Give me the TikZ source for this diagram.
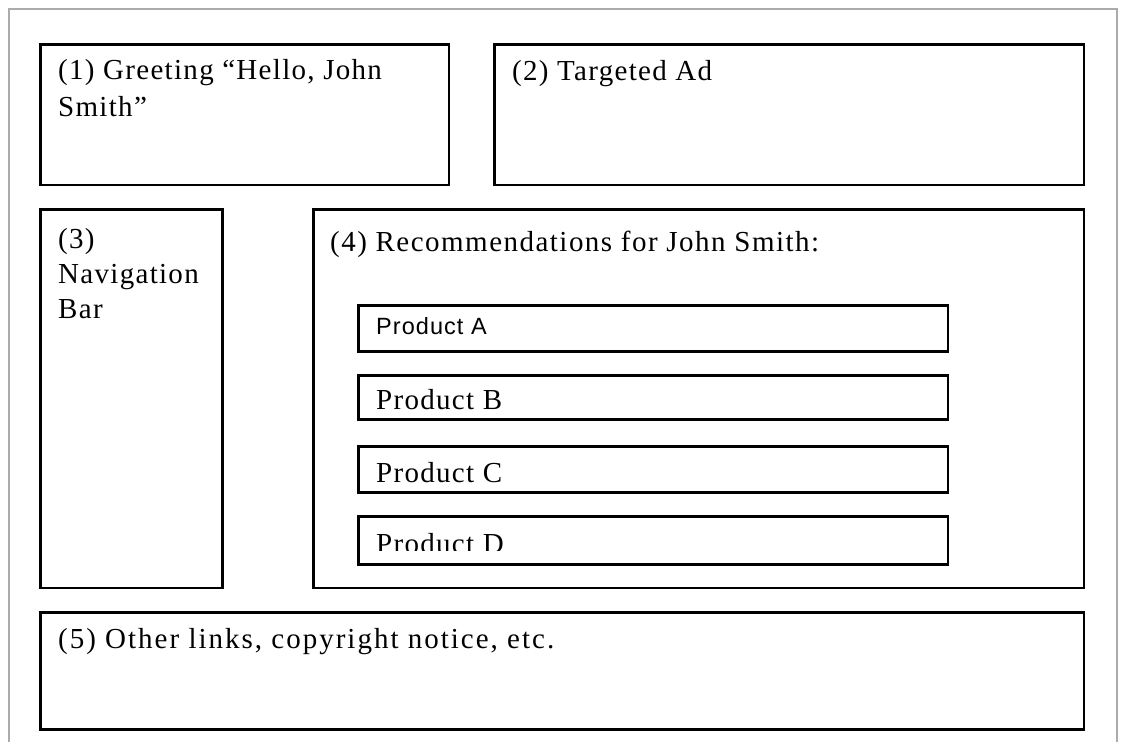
\documentclass[tikz,border=0pt]{standalone}
\usepackage{fontspec}
\setmainfont{Liberation Serif}[LetterSpace=4.5]
\newfontfamily\arialfont{Liberation Sans}[LetterSpace=4.5]
\newfontfamily\widefont{Liberation Serif}[LetterSpace=6.9]
\newfontfamily\midfont{Liberation Serif}[LetterSpace=5.1]
\definecolor{pagegray}{HTML}{ABABAB}
\tikzset{
  panel/.style={draw=black, line width=2.5pt, inner sep=0pt, anchor=north west},
  lbl/.style={anchor=base west, inner sep=0pt, align=left,
              font=\fontsize{29}{37}\selectfont},
  lbltight/.style={anchor=base west, inner sep=0pt, align=left,
              font=\fontsize{29}{35}\selectfont},
  lblsans/.style={anchor=base west, inner sep=0pt,
              font=\arialfont\fontsize{23.5}{28}\selectfont},
  pageedge/.style={draw=pagegray, line width=2pt},
}
\begin{document}
\begin{tikzpicture}[x=1pt,y=-1pt]
\useasboundingbox (0,0) rectangle (1125,742);
\fill[white] (0,0) rectangle (1125,742);
\coordinate (pbl) at (9,742);
\coordinate (ptl) at (9,9);
\coordinate (ptr) at (1117,9);
\coordinate (pbr) at (1117,742);
\draw[pageedge] (pbl) -- (ptl) -- (ptr) -- (pbr);

% main panels
\node[panel, minimum width=408.5pt, minimum height=140.5pt] (b1) at (39,43) {};
\node[panel, minimum width=589.5pt, minimum height=140.5pt] (b2) at (493,43) {};
\node[panel, minimum width=182pt, minimum height=378.5pt] (b3) at (39,208) {};
\node[panel, minimum width=770.5pt, minimum height=378.5pt] (b4) at (312,208) {};
\node[panel, minimum width=1043.5pt, minimum height=117pt] (b5) at (39,611) {};

% product boxes
\node[panel, minimum width=589.5pt, minimum height=46pt] (pa) at (357,304) {};
\node[panel, minimum width=589.5pt, minimum height=44pt] (pb) at (357,374) {};
\node[panel, minimum width=589.5pt, minimum height=46pt] (pc) at (357,445) {};
\node[panel, minimum width=589.5pt, minimum height=48pt] (pd) at (357,515) {};

% labels (base anchor = baseline of last line)
\node[lbl] (t1) at (58,116) {(1) Greeting “Hello, John\\Smith”};
\node[lbl] (t2) at (512,80) {(2) Targeted Ad};
\node[lbltight] (t3) at (58,318) {(3)\\Navigation\\Bar};
\node[lbl, font=\midfont\fontsize{29}{37}\selectfont] (t4) at (330,251) {(4) Recommendations for John Smith:};
\node[lbl, font=\widefont\fontsize{29}{37}\selectfont] (t5) at (58,648) {(5) Other links, copyright notice, etc.};

\node[lblsans] (ta) at (376,334) {Product A};
\node[lbl] (tb) at (376,409) {Product B};
\node[lbl] (tc) at (376,482) {Product C};
\begin{scope}
  \clip (360,518) rectangle (940,550.5);
  \node[lbl] (td) at (376,553) {Product D};
\end{scope}
\end{tikzpicture}
\end{document}
